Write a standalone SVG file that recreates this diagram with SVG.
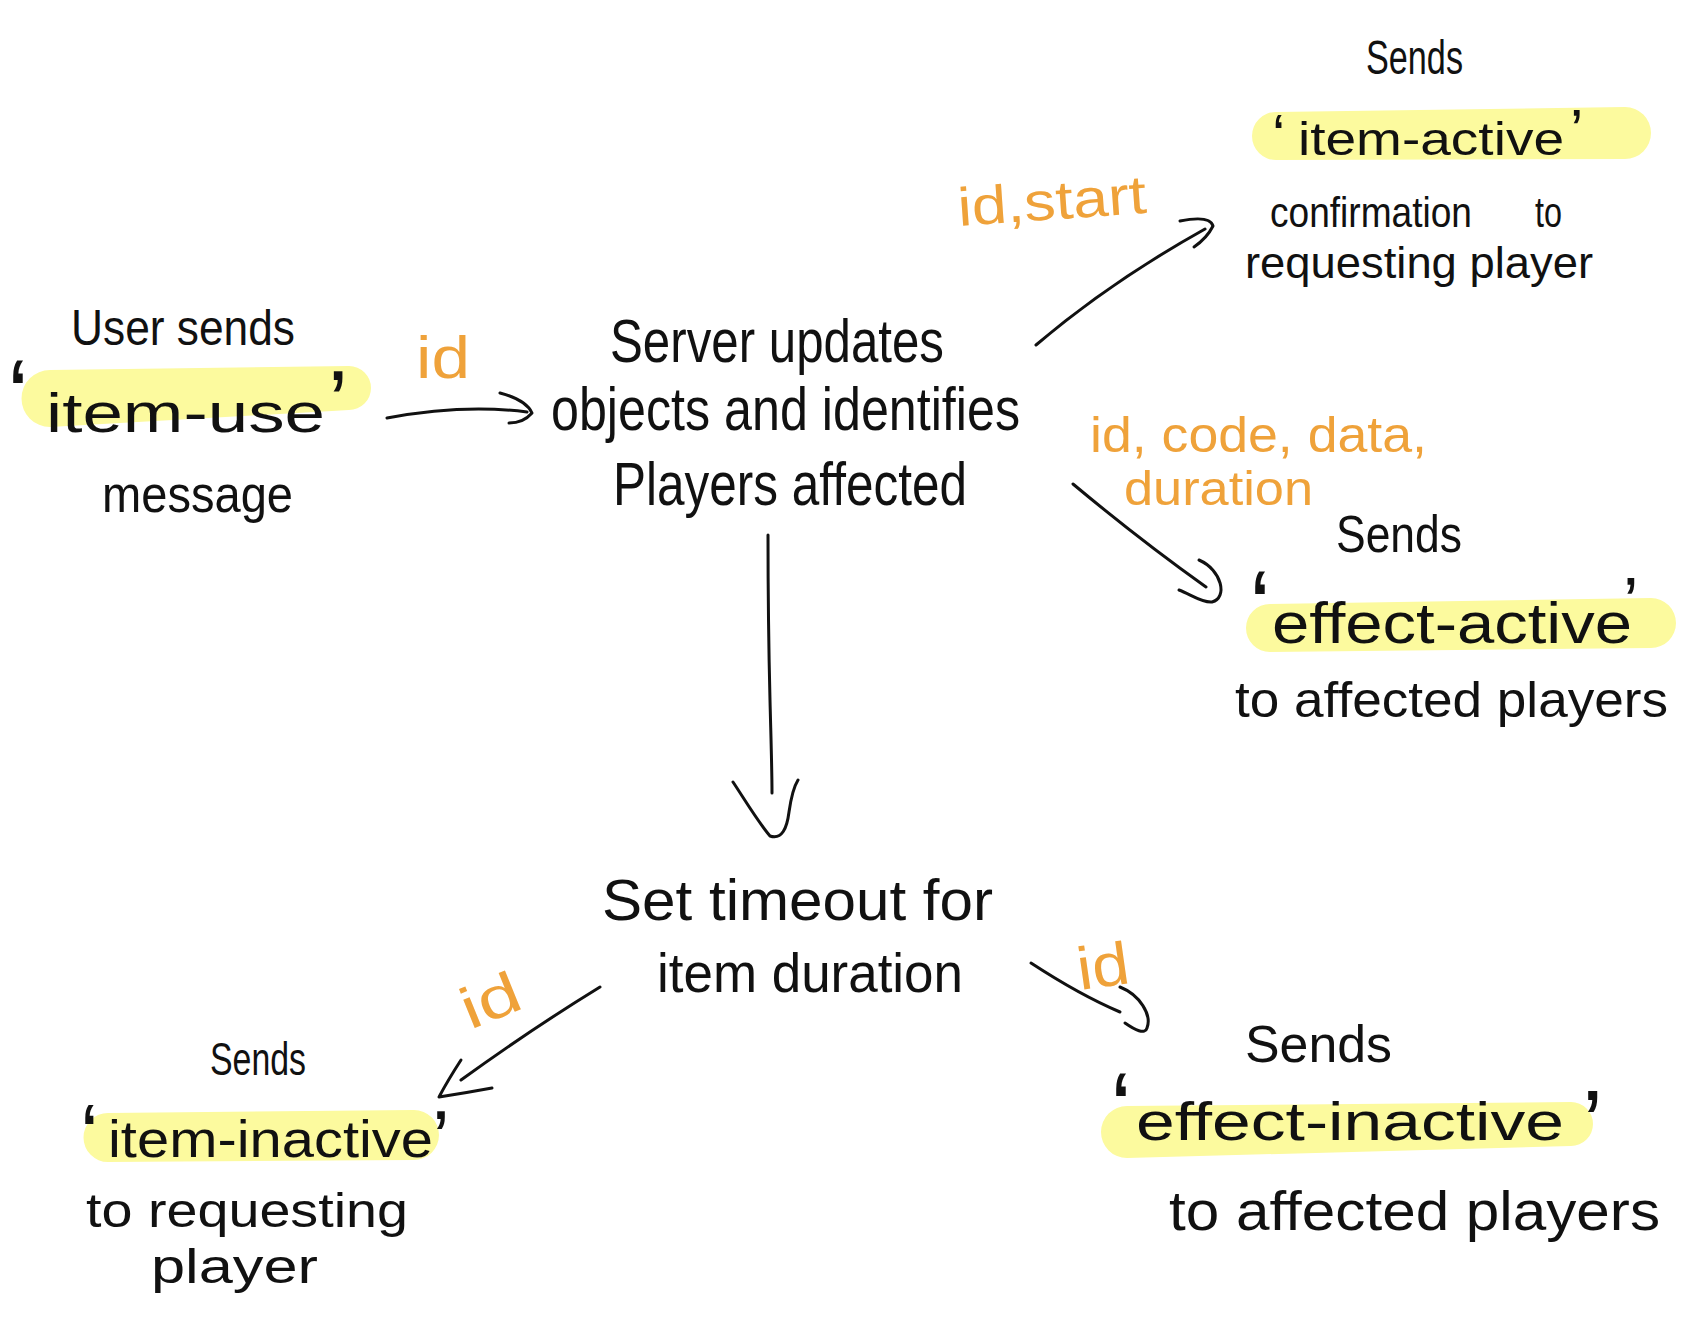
<svg xmlns="http://www.w3.org/2000/svg" width="1699" height="1325" viewBox="0 0 1699 1325">
<style>
.t{font-family:"Liberation Sans",Arial,sans-serif;fill:#111}
.o{font-family:"Liberation Sans",Arial,sans-serif;fill:#EFA23A}
.hl{fill:#FCFA9E}
.ln{fill:none;stroke:#111;stroke-width:3;stroke-linecap:round;stroke-linejoin:round}
</style>
<rect width="1699" height="1325" fill="#fff"/>
<g id="highlights">
<path class="hl" d="M50,370 L349,366 A22,22 0 0 1 349,410 L50,427 A28.5,28.5 0 0 1 50,370 Z"/>
<path class="hl" d="M1276,112 L1625,107 A26,26 0 0 1 1625,159 L1276,160 A24,24 0 0 1 1276,112 Z"/>
<path class="hl" d="M1270,604 L1651,598 A25,25 0 0 1 1651,648 L1270,652 A24,24 0 0 1 1270,604 Z"/>
<path class="hl" d="M108,1113 L414,1110 A25,25 0 0 1 414,1160 L108,1162 A24.5,24.5 0 0 1 108,1113 Z"/>
<path class="hl" d="M1127,1106 L1571,1102 A22,22 0 0 1 1571,1146 L1127,1158 A26,26 0 0 1 1127,1106 Z"/>
</g>
<g id="connectors">
<path class="ln" d="M387,418 C430,410 480,406 527,412"/>
<path class="ln" d="M500,393 C515,397 528,404 532,413 C526,420 518,423 509,423"/>
<path class="ln" d="M1036,345 Q1110,282 1205,229"/>
<path class="ln" d="M1180,221 Q1210,215 1213,226 Q1207,238 1194,247"/>
<path class="ln" d="M1073,484 Q1140,540 1206,587"/>
<path class="ln" d="M1199,560 C1222,570 1228,598 1212,602 C1202,603 1190,594 1179,590"/>
<path class="ln" d="M768,535 C768,600 769,660 770,700 C771,740 772,770 772,793"/>
<path class="ln" d="M733,782 C745,800 758,822 770,836 C782,840 787,828 789,812 C791,798 793,788 798,780"/>
<path class="ln" d="M600,987 Q530,1030 461,1080"/>
<path class="ln" d="M461,1060 Q448,1080 439,1097 Q465,1093 492,1088"/>
<path class="ln" d="M1031,963 Q1080,995 1120,1012"/>
<path class="ln" d="M1120,987 C1140,995 1152,1015 1147,1028 C1145,1035 1135,1030 1125,1023"/>
<text class="o" x="416" y="378" font-size="60" textLength="54" lengthAdjust="spacingAndGlyphs">id</text>
<text class="o" x="959" y="226" font-size="54" textLength="189" lengthAdjust="spacingAndGlyphs" transform="rotate(-4 959 226)">id,start</text>
<text class="o" x="1090" y="452" font-size="50" textLength="337" lengthAdjust="spacingAndGlyphs">id, code, data,</text>
<text class="o" x="1124" y="505" font-size="48" textLength="189" lengthAdjust="spacingAndGlyphs">duration</text>
<text class="o" x="470" y="1030" font-size="58" textLength="60" lengthAdjust="spacingAndGlyphs" transform="rotate(-22 470 1030)">id</text>
<text class="o" x="1080" y="990" font-size="60" textLength="52" lengthAdjust="spacingAndGlyphs" transform="rotate(-8 1080 990)">id</text>
</g>
<g id="node-user-sends">
<text class="t" x="71" y="345" font-size="50" textLength="224" lengthAdjust="spacingAndGlyphs">User sends</text>
<text class="t" font-size="56"><tspan x="7" y="430" font-size="100">‘</tspan><tspan x="46" y="432" textLength="279" lengthAdjust="spacingAndGlyphs">item-use</tspan><tspan x="328" y="434" font-size="90">’</tspan></text>
<text class="t" x="102" y="512" font-size="52" textLength="191" lengthAdjust="spacingAndGlyphs">message</text>
</g>
<g id="node-server">
<text class="t" x="610" y="362" font-size="62" textLength="334" lengthAdjust="spacingAndGlyphs">Server updates</text>
<text class="t" x="551" y="430" font-size="62" textLength="469" lengthAdjust="spacingAndGlyphs">objects and identifies</text>
<text class="t" x="613" y="505" font-size="62" textLength="354" lengthAdjust="spacingAndGlyphs">Players affected</text>
</g>
<g id="node-item-active">
<text class="t" x="1366" y="74" font-size="48" textLength="97" lengthAdjust="spacingAndGlyphs">Sends</text>
<text class="t" font-size="46"><tspan x="1272" y="156" font-size="60">‘</tspan><tspan x="1298" y="155" textLength="266" lengthAdjust="spacingAndGlyphs">item-active</tspan><tspan x="1570" y="151" font-size="60">’</tspan></text>
<text class="t" font-size="42"><tspan x="1270" y="227" textLength="202" lengthAdjust="spacingAndGlyphs">confirmation</tspan><tspan x="1535" y="227" textLength="27" lengthAdjust="spacingAndGlyphs">to</tspan></text>
<text class="t" x="1245" y="278" font-size="44" textLength="348" lengthAdjust="spacingAndGlyphs">requesting player</text>
</g>
<g id="node-effect-active">
<text class="t" x="1336" y="552" font-size="52" textLength="126" lengthAdjust="spacingAndGlyphs">Sends</text>
<text class="t" font-size="58"><tspan x="1249" y="641" font-size="100">‘</tspan><tspan x="1272" y="643" textLength="360" lengthAdjust="spacingAndGlyphs">effect-active</tspan><tspan x="1623" y="627" font-size="70">’</tspan></text>
<text class="t" x="1235" y="717" font-size="50" textLength="433" lengthAdjust="spacingAndGlyphs">to affected players</text>
</g>
<g id="node-timeout">
<text class="t" x="602" y="920" font-size="58" textLength="391" lengthAdjust="spacingAndGlyphs">Set timeout for</text>
<text class="t" x="657" y="992" font-size="56" textLength="306" lengthAdjust="spacingAndGlyphs">item duration</text>
</g>
<g id="node-item-inactive">
<text class="t" x="210" y="1075" font-size="46" textLength="96" lengthAdjust="spacingAndGlyphs">Sends</text>
<text class="t" font-size="52"><tspan x="80" y="1164" font-size="85">‘</tspan><tspan x="108" y="1157" textLength="325" lengthAdjust="spacingAndGlyphs">item-inactive</tspan><tspan x="432" y="1166" font-size="80">’</tspan></text>
<text class="t" x="86" y="1227" font-size="48" textLength="322" lengthAdjust="spacingAndGlyphs">to requesting</text>
<text class="t" x="151" y="1283" font-size="48" textLength="167" lengthAdjust="spacingAndGlyphs">player</text>
</g>
<g id="node-effect-inactive">
<text class="t" x="1245" y="1062" font-size="52" textLength="147" lengthAdjust="spacingAndGlyphs">Sends</text>
<text class="t" font-size="54"><tspan x="1110" y="1143" font-size="100">‘</tspan><tspan x="1136" y="1140" textLength="428" lengthAdjust="spacingAndGlyphs">effect-inactive</tspan><tspan x="1582" y="1156" font-size="95">’</tspan></text>
<text class="t" x="1169" y="1230" font-size="56" textLength="491" lengthAdjust="spacingAndGlyphs">to affected players</text>
</g>
</svg>
